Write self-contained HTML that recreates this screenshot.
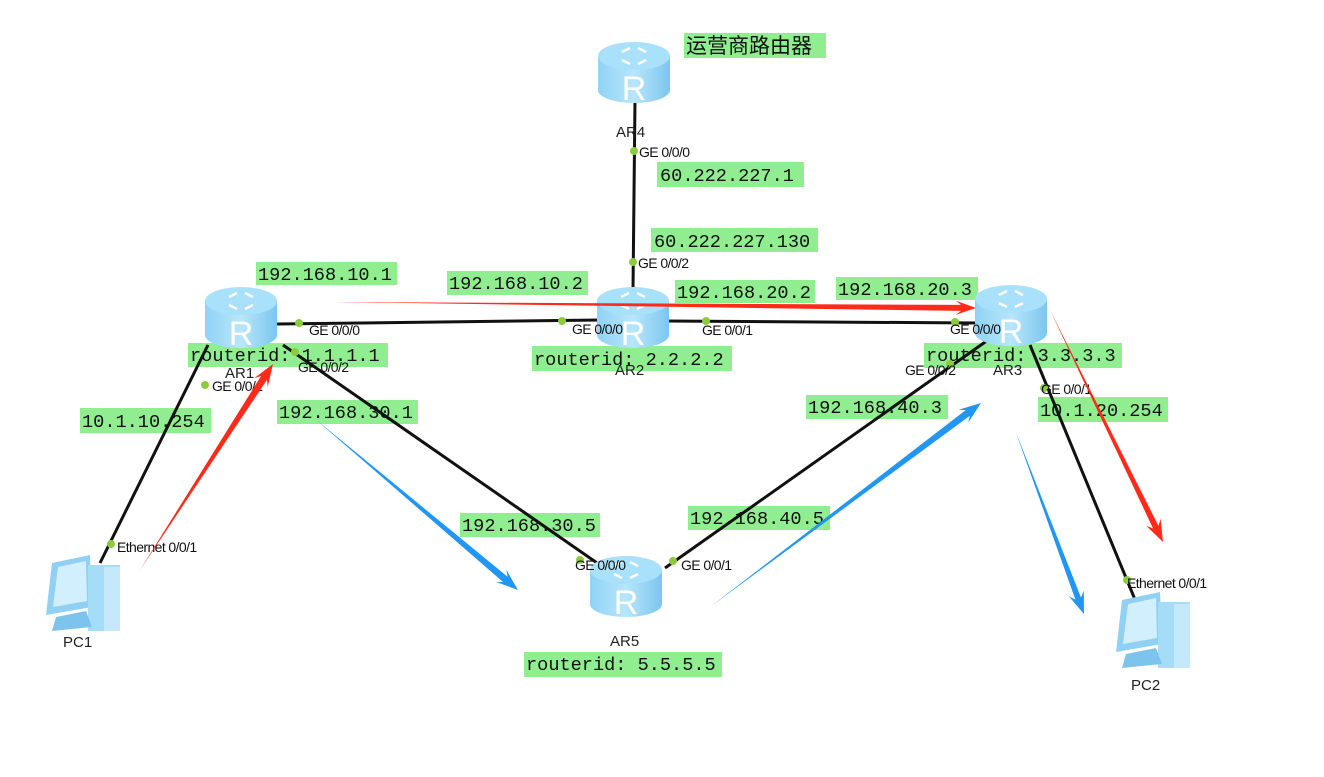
<!DOCTYPE html>
<html><head><meta charset="utf-8"><style>
html,body{margin:0;padding:0;background:#fff;}
svg{display:block;}
.lb{font-family:"Liberation Mono",monospace;font-size:18.6px;fill:#111;}
.pt{font-family:"Liberation Sans",sans-serif;font-size:14px;fill:#111;letter-spacing:-0.6px;}
.nm{font-family:"Liberation Sans",sans-serif;font-size:15px;fill:#222;}
</style></head><body>
<svg id="s" width="1324" height="777" viewBox="0 0 1324 777" xmlns="http://www.w3.org/2000/svg">
<defs>
<linearGradient id="rg" x1="0" x2="1" y1="0" y2="0">
<stop offset="0" stop-color="#8fd3f5"/><stop offset="0.5" stop-color="#b8e6fb"/><stop offset="1" stop-color="#7cc6ee"/>
</linearGradient>
<g id="rt">
<rect x="0" y="14" width="72" height="34" fill="url(#rg)"/>
<ellipse cx="36" cy="48" rx="36" ry="13" fill="url(#rg)"/>
<ellipse cx="36" cy="14" rx="36" ry="14" fill="#a9e0fa"/>
<path d="M24 10 l8 -4 M48 10 l-8 -4 M24 18 l8 4 M48 18 l-8 4" stroke="#fff" stroke-width="2.5" fill="none"/>
<text x="36" y="58" text-anchor="middle" font-family="Liberation Sans,sans-serif" font-size="34" fill="#fff">R</text>
</g>
<g id="pc">
<polygon points="10,8 48,0 50,52 4,60" fill="#8fd0f3"/>
<polygon points="16,12 44,6 45,46 11,52" fill="#d2effd"/>
<rect x="46" y="10" width="32" height="66" fill="#a5dcf8"/>
<rect x="62" y="12" width="16" height="64" fill="#c5e9fb"/>
<polygon points="14,62 44,56 50,72 10,76" fill="#7cc4ee"/>
</g>
</defs>

<g fill="#90ee90">
<rect x="684" y="33" width="142" height="25"/>
<rect x="657" y="162" width="147" height="25"/>
<rect x="651" y="228" width="167" height="24"/>
<rect x="256" y="262" width="141" height="23"/>
<rect x="447" y="271" width="141" height="24"/>
<rect x="675" y="280" width="140" height="23"/>
<rect x="836" y="277" width="142" height="23"/>
<rect x="188" y="343" width="200" height="24"/>
<rect x="532" y="346" width="200" height="25"/>
<rect x="924" y="343" width="198" height="25"/>
<rect x="80" y="408" width="131" height="25"/>
<rect x="277" y="400" width="141" height="24"/>
<rect x="806" y="395" width="142" height="24"/>
<rect x="1038" y="397" width="130" height="25"/>
<rect x="460" y="513" width="140" height="24"/>
<rect x="688" y="506" width="142" height="24"/>
<rect x="524" y="652" width="198" height="25"/>
</g>
<text x="686" y="53" font-family="Liberation Sans,'Noto Sans CJK SC',sans-serif" font-size="21" fill="#111">运营商路由器</text>
<g class="lb">
<text x="660" y="181">60.222.227.1</text>
<text x="654" y="247">60.222.227.130</text>
<text x="258" y="280">192.168.10.1</text>
<text x="449" y="289">192.168.10.2</text>
<text x="677" y="298">192.168.20.2</text>
<text x="838" y="295">192.168.20.3</text>
<text x="190" y="361">routerid: 1.1.1.1</text>
<text x="534" y="365">routerid: 2.2.2.2</text>
<text x="926" y="361">routerid: 3.3.3.3</text>
<text x="82" y="427">10.1.10.254</text>
<text x="279" y="418">192.168.30.1</text>
<text x="808" y="413">192.168.40.3</text>
<text x="1040" y="416">10.1.20.254</text>
<text x="462" y="531">192.168.30.5</text>
<text x="690" y="524">192.168.40.5</text>
<text x="526" y="670">routerid: 5.5.5.5</text>
</g>

<g stroke="#111" stroke-width="3" fill="none">
<line x1="635" y1="100" x2="633" y2="290"/>
<line x1="277" y1="324" x2="600" y2="320"/>
<line x1="665" y1="321" x2="978" y2="323"/>
<line x1="208" y1="345" x2="100" y2="563"/>
<line x1="283" y1="345" x2="600" y2="565"/>
<line x1="665" y1="568" x2="988" y2="340"/>
<line x1="1030" y1="345" x2="1136" y2="602"/>
</g>

<use href="#rt" x="598" y="42"/>
<use href="#rt" x="205" y="287"/>
<use href="#rt" x="597" y="287"/>
<use href="#rt" x="975" y="285"/>
<use href="#rt" x="590" y="556"/>
<use href="#pc" x="42" y="555"/>
<use href="#pc" x="1112" y="592"/>

<g fill="#8ccc3c">
<circle cx="634" cy="151" r="4"/><circle cx="633" cy="262" r="4"/>
<circle cx="299" cy="323" r="4"/><circle cx="562" cy="321" r="4"/>
<circle cx="706" cy="321" r="4"/><circle cx="955" cy="322" r="4"/>
<circle cx="205" cy="385" r="4"/><circle cx="295" cy="352" r="4"/>
<circle cx="111" cy="544" r="4"/><circle cx="950" cy="364" r="4"/>
<circle cx="1044" cy="388" r="4"/><circle cx="1127" cy="580" r="4"/>
<circle cx="580" cy="560" r="4"/><circle cx="673" cy="561" r="4"/>
</g>
<g class="pt">
<text x="639" y="157">GE 0/0/0</text>
<text x="638" y="268">GE 0/0/2</text>
<text x="309" y="335">GE 0/0/0</text>
<text x="572" y="334">GE 0/0/0</text>
<text x="702" y="335">GE 0/0/1</text>
<text x="950" y="334">GE 0/0/0</text>
<text x="212" y="391">GE 0/0/1</text>
<text x="298" y="372">GE 0/0/2</text>
<text x="905" y="375">GE 0/0/2</text>
<text x="1041" y="394">GE 0/0/1</text>
<text x="117" y="552">Ethernet 0/0/1</text>
<text x="1127" y="588">Ethernet 0/0/1</text>
<text x="575" y="570">GE 0/0/0</text>
<text x="681" y="570">GE 0/0/1</text>
</g>
<g class="nm">
<text x="616" y="137">AR4</text>
<text x="225" y="378">AR1</text>
<text x="615" y="375">AR2</text>
<text x="993" y="375">AR3</text>
<text x="610" y="646">AR5</text>
<text x="63" y="647">PC1</text>
<text x="1131" y="690">PC2</text>
</g>
<g id="arr"></g>
</svg>
<script>
var A=[
["#ff2a1a",333,302,976,308,6,14,20],
["#ff2a1a",140,570,273,364,7,16,22],
["#ff2a1a",1050,310,1163,542,6,16,22],
["#2196f3",314,418,518,590,7,16,22],
["#2196f3",710,607,981,403,7,16,22],
["#2196f3",1015,430,1084,614,6,16,22]];
var g=document.getElementById('arr'),h='';
A.forEach(function(a){var c=a[0],x1=a[1],y1=a[2],x2=a[3],y2=a[4],w=a[5],hw=a[6],hl=a[7];
var dx=x2-x1,dy=y2-y1,L=Math.sqrt(dx*dx+dy*dy),ux=dx/L,uy=dy/L,nx=-uy,ny=ux;
var bx=x2-ux*hl,by=y2-uy*hl,cx=x2-ux*hl*0.75,cy=y2-uy*hl*0.75;
var p=[[x1,y1],[cx+nx*w/2,cy+ny*w/2],[bx+nx*hw/2,by+ny*hw/2],[x2,y2],[bx-nx*hw/2,by-ny*hw/2],[cx-nx*w/2,cy-ny*w/2]];
h+='<polygon fill="'+c+'" points="'+p.map(function(q){return q[0].toFixed(1)+','+q[1].toFixed(1)}).join(' ')+'"/>';});
g.innerHTML=h;
</script>
</body></html>
